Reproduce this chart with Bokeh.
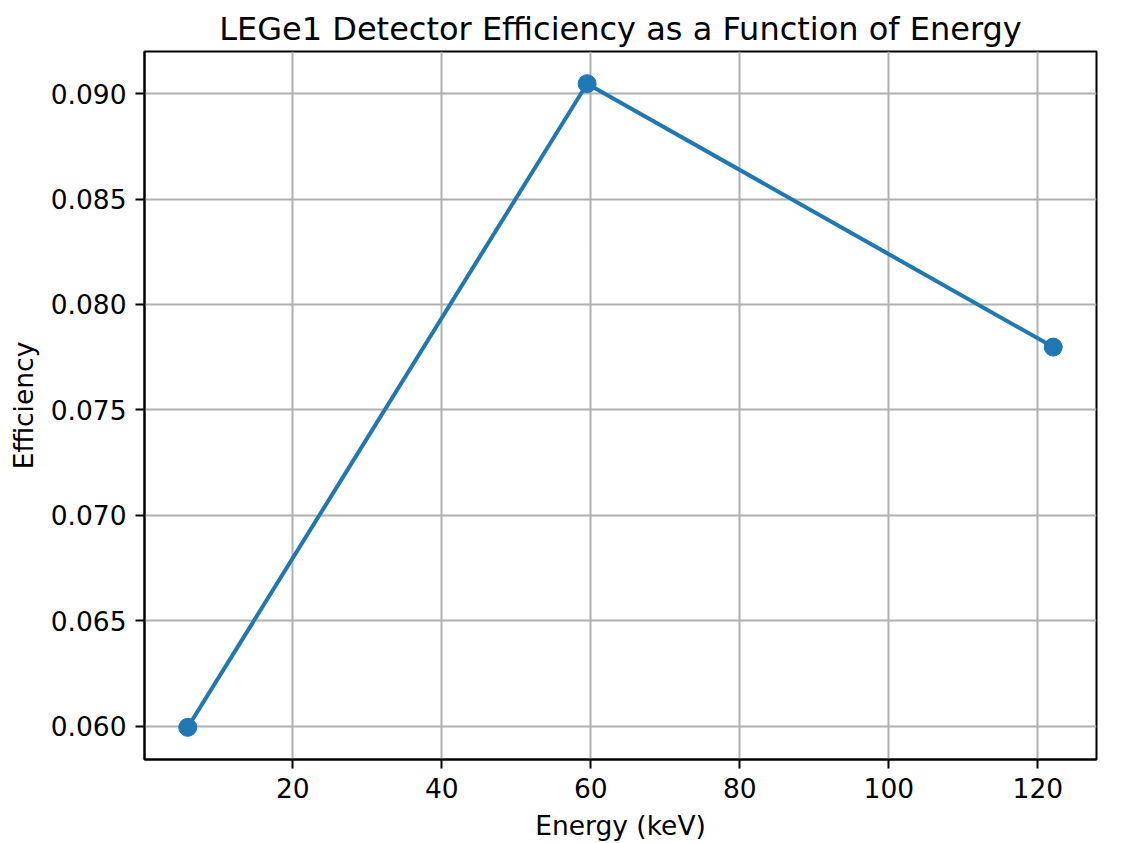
from bokeh.plotting import figure
from bokeh.models import FixedTicker, PrintfTickFormatter, Range1d
from bokeh.embed import file_html
from bokeh.resources import INLINE

energy_kev = [5.9, 59.5, 122.06]
efficiency = [0.05995, 0.09047, 0.07798]
x_ticks = [0, 20, 40, 60, 80, 100, 120, 140]
y_ticks = [0.060, 0.065, 0.070, 0.075, 0.080, 0.085, 0.090]

xspan = max(energy_kev) - min(energy_kev)
yspan = max(efficiency) - min(efficiency)

p = figure(width=1127, height=843, output_backend="svg", toolbar_location=None,
           x_range=Range1d(min(energy_kev) - 0.05 * xspan, max(energy_kev) + 0.05 * xspan),
           y_range=Range1d(min(efficiency) - 0.05 * yspan, max(efficiency) + 0.05 * yspan),
           min_border_left=144, min_border_right=31, min_border_top=51, min_border_bottom=83,
           title="LEGe1 Detector Efficiency as a Function of Energy")

p.title.align = "center"
p.title.text_font = "DejaVu Sans"
p.title.text_font_size = "32px"
p.title.text_font_style = "normal"
p.title.text_color = "black"
p.title.offset = 0
p.title.standoff = 8

p.line(energy_kev, efficiency, line_color="#1f77b4", line_width=4)
p.scatter(energy_kev, efficiency, size=18, fill_color="#1f77b4", line_color="#1f77b4")

p.xaxis.ticker = FixedTicker(ticks=x_ticks)
p.yaxis.ticker = FixedTicker(ticks=y_ticks)
p.yaxis.formatter = PrintfTickFormatter(format="%.3f")
p.xaxis.axis_label = "Energy (keV)"
p.yaxis.axis_label = "Efficiency"

for ax in (p.xaxis, p.yaxis):
    ax.axis_label_text_font = "DejaVu Sans"
    ax.axis_label_text_font_size = "26.5px"
    ax.axis_label_text_font_style = "normal"
    ax.axis_label_text_color = "black"
    ax.major_label_text_font = "DejaVu Sans"
    ax.major_label_text_font_size = "26.5px"
    ax.major_label_text_color = "black"
    ax.major_label_standoff = 9
    ax.axis_label_standoff = 9
    ax.axis_line_width = 2
    ax.axis_line_color = "black"
    ax.major_tick_line_width = 2
    ax.major_tick_line_color = "black"
    ax.major_tick_out = 9
    ax.major_tick_in = 0
    ax.minor_tick_line_color = None

p.grid.grid_line_color = "#b0b0b0"
p.grid.grid_line_width = 2
p.outline_line_color = "black"
p.outline_line_width = 2
p.outline_line_alpha = 1

open("out.html", "w").write(file_html(p, INLINE))
